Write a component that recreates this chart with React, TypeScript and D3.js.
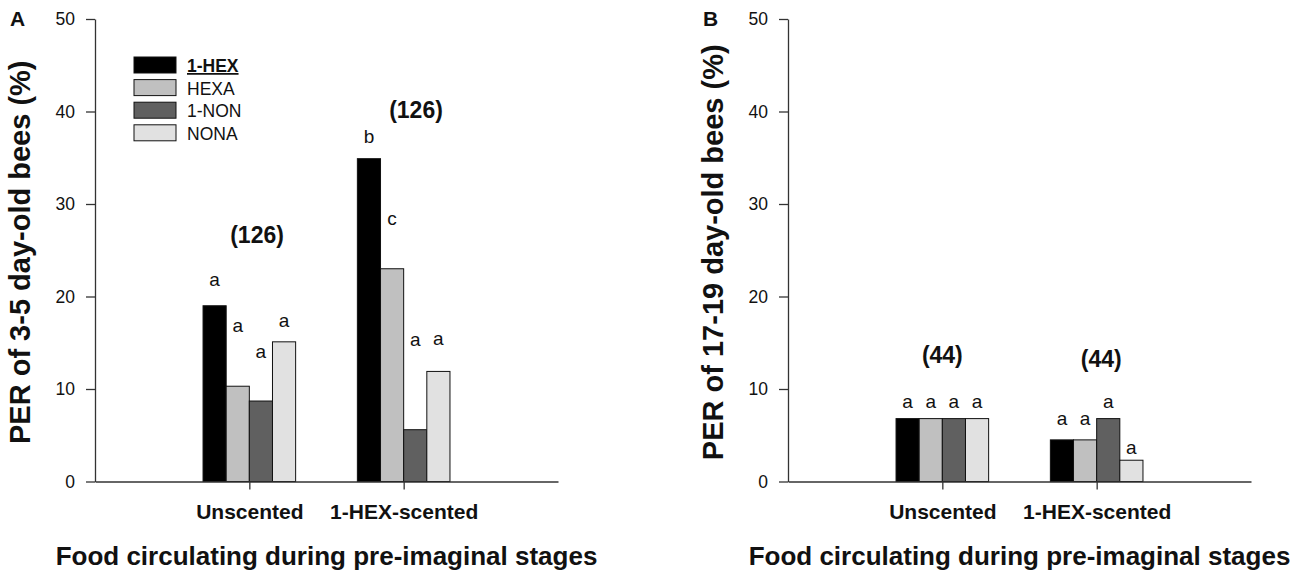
import React, { useRef, useEffect } from "react";
import * as d3 from "d3";

// groups on the x axis and the four odours
const categories = ["Unscented", "1-HEX-scented"];
const odours = ["1-HEX", "HEXA", "1-NON", "NONA"];
const odourColors = ["#000000", "#c0c0c0", "#606060", "#e1e1e1"];

// panel A: 3-5 day-old bees
const youngValues = [
  [19.0, 10.3, 8.7, 15.1],
  [34.9, 23.0, 5.6, 11.9],
];
const youngLetters = [
  ["a", "a", "a", "a"],
  ["b", "c", "a", "a"],
];
const youngLetterY = [
  [21.1, 16.2, 13.4, 16.7],
  [36.6, 27.7, 14.6, 14.8],
];
const youngN = ["(126)", "(126)"];
const youngNPos = [
  { x: 1.05, y: 25.8 },
  { x: 2.08, y: 39.3 },
];

// panel B: 17-19 day-old bees
const oldValues = [
  [6.8, 6.8, 6.8, 6.8],
  [4.5, 4.5, 6.8, 2.3],
];
const oldLetters = [
  ["a", "a", "a", "a"],
  ["a", "a", "a", "a"],
];
const oldLetterY = [
  [7.9, 7.9, 7.9, 7.9],
  [6.1, 6.1, 7.9, 2.95],
];
const oldN = ["(44)", "(44)"];
const oldNPos = [
  { x: 1.0, y: 12.8 },
  { x: 2.03, y: 12.4 },
];

const yTicks = [0, 10, 20, 30, 40, 50];
const FONT = "'Liberation Sans', Arial, sans-serif";

interface PanelProps {
  tag: string;
  left: number;
  yTitle: string;
  values: number[][];
  letters: string[][];
  letterY: number[][];
  nLabels: string[];
  nPos: { x: number; y: number }[];
  legend?: boolean;
}

function Panel({ tag, left, yTitle, values, letters, letterY, nLabels, nPos, legend }: PanelProps) {
  const ref = useRef<SVGGElement>(null);

  useEffect(() => {
    if (!ref.current) return;
    const g = d3.select(ref.current);
    g.selectAll("*").remove();

    const width = 463;
    const top = 19;
    const bottom = 481.5;

    const x = d3.scaleLinear().domain([0, 3]).range([0, width]);
    const y = d3.scaleLinear().domain([0, 50]).range([bottom, top]);
    const groupW = x(0.6) - x(0);
    const inner = d3.scaleBand<string>().domain(odours).range([-groupW / 2, groupW / 2]);

    // bars
    categories.forEach((cat, i) => {
      const cx = x(i + 1);
      g.append("g")
        .selectAll("rect")
        .data(values[i])
        .join("rect")
        .attr("x", (_, j) => cx + (inner(odours[j]) ?? 0))
        .attr("y", (d) => y(d))
        .attr("width", inner.bandwidth())
        .attr("height", (d) => bottom - y(d))
        .attr("fill", (_, j) => odourColors[j])
        .attr("stroke", "#111")
        .attr("stroke-width", 1);

      // significance letters
      g.append("g")
        .selectAll("text")
        .data(letters[i])
        .join("text")
        .attr("x", (_, j) => cx + (inner(odours[j]) ?? 0) + inner.bandwidth() / 2)
        .attr("y", (_, j) => y(letterY[i][j]))
        .attr("text-anchor", "middle")
        .attr("font-family", FONT)
        .attr("font-size", 19)
        .attr("fill", "#111")
        .text((d) => d);

      // sample sizes
      g.append("text")
        .attr("x", x(nPos[i].x))
        .attr("y", y(nPos[i].y))
        .attr("text-anchor", "middle")
        .attr("font-family", FONT)
        .attr("font-weight", "bold")
        .attr("font-size", 23)
        .attr("fill", "#111")
        .text(nLabels[i]);
    });

    // y axis
    const yAxis = g.append("g")
      .call(d3.axisLeft(y).tickValues(yTicks).tickSize(9).tickSizeOuter(0).tickPadding(11));
    yAxis.selectAll("text").attr("font-size", 17.5).attr("font-family", FONT).attr("fill", "#111");
    yAxis.selectAll("line, path").attr("stroke", "#333").attr("stroke-width", 1.3);

    // x axis
    const xAxis = g.append("g")
      .attr("transform", `translate(0,${bottom})`)
      .call(
        d3.axisBottom(x)
          .tickValues([1, 2])
          .tickFormat((d) => categories[(d as number) - 1])
          .tickSize(8)
          .tickSizeOuter(0)
          .tickPadding(14.5)
      );
    xAxis.selectAll("text")
      .attr("font-size", 21)
      .attr("font-weight", "bold")
      .attr("font-family", FONT)
      .attr("fill", "#111");
    xAxis.selectAll("line, path").attr("stroke", "#333").attr("stroke-width", 1.3);

    // titles
    g.append("text")
      .attr("x", x(1.5))
      .attr("y", 565)
      .attr("text-anchor", "middle")
      .attr("font-family", FONT)
      .attr("font-weight", "bold")
      .attr("font-size", 26)
      .attr("fill", "#111")
      .text("Food circulating during pre-imaginal stages");

    g.append("text")
      .attr("transform", `translate(-65,${(top + bottom) / 2 + 2}) rotate(-90)`)
      .attr("text-anchor", "middle")
      .attr("font-family", FONT)
      .attr("font-weight", "bold")
      .attr("font-size", 29)
      .attr("fill", "#111")
      .text(yTitle);

    g.append("text")
      .attr("x", -85)
      .attr("y", 26)
      .attr("font-family", FONT)
      .attr("font-weight", "bold")
      .attr("font-size", 21)
      .attr("fill", "#111")
      .text(tag);

    if (legend) {
      const lg = g.append("g").attr("transform", "translate(39,57)");
      odours.forEach((name, j) => {
        lg.append("rect")
          .attr("x", 0)
          .attr("y", j * 22.6)
          .attr("width", 42)
          .attr("height", 16)
          .attr("fill", odourColors[j])
          .attr("stroke", "#111")
          .attr("stroke-width", 1);
        lg.append("text")
          .attr("x", 53)
          .attr("y", j * 22.6 + 15)
          .attr("font-family", FONT)
          .attr("font-size", 17.5)
          .attr("font-weight", j === 0 ? "bold" : "normal")
          .attr("text-decoration", j === 0 ? "underline" : "none")
          .attr("fill", "#111")
          .text(name);
      });
    }
  }, [tag, left, yTitle, values, letters, letterY, nLabels, nPos, legend]);

  return <g ref={ref} transform={`translate(${left},0)`} />;
}

export default function App() {
  return (
    <>
      <style>{`body{margin:0;background:#fff}`}</style>
      <svg width={1300} height={577} viewBox="0 0 1300 577" style={{ display: "block", background: "#fff" }}>
        <Panel
          tag="A"
          left={95}
          yTitle="PER of 3-5 day-old bees (%)"
          values={youngValues}
          letters={youngLetters}
          letterY={youngLetterY}
          nLabels={youngN}
          nPos={youngNPos}
          legend
        />
        <Panel
          tag="B"
          left={788}
          yTitle="PER of 17-19 day-old bees (%)"
          values={oldValues}
          letters={oldLetters}
          letterY={oldLetterY}
          nLabels={oldN}
          nPos={oldNPos}
        />
      </svg>
    </>
  );
}
